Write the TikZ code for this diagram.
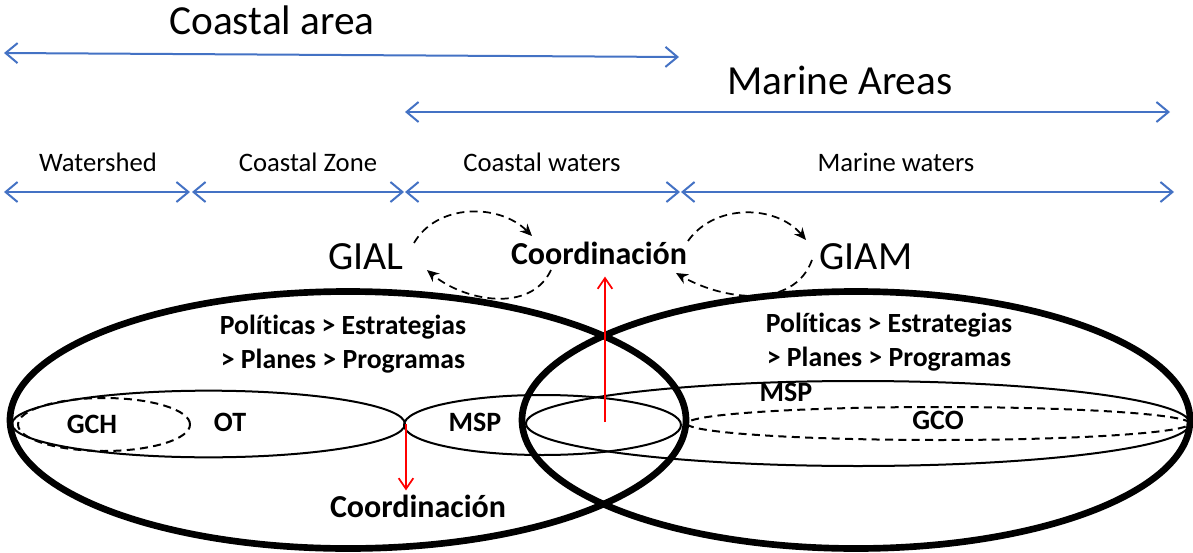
\documentclass[tikz,border=0pt]{standalone}
\usepackage{fontspec}
\setmainfont{Carlito}[RawFeature={-liga;-clig;-dlig;-calt}]
\usetikzlibrary{arrows.meta,shapes.geometric}
\definecolor{bluearr}{HTML}{4472C4}
\begin{document}
\begin{tikzpicture}[x=0.75pt,y=-0.75pt,line join=round,>=Stealth,
	rng/.style={bluearr,line width=1.5pt,{Straight Barb[length=9pt,width=15pt]}-{Straight Barb[length=9pt,width=15pt]}},
	bigtxt/.style={font=\fontsize{31}{37}\selectfont,inner sep=0pt},
	midtxt/.style={font=\fontsize{20}{24}\selectfont,inner sep=0pt},
	gtxt/.style={font=\fontsize{30}{36}\selectfont,inner sep=0pt},
	coordtxt/.style={font=\fontsize{24}{29}\selectfont\bfseries,inner sep=3pt},
	pol/.style={font=\fontsize{20.8}{26}\selectfont\bfseries,align=center,inner sep=0pt},
	lbl/.style={font=\fontsize{21}{25}\selectfont\bfseries,inner sep=0pt},
	ring/.style={draw,ellipse,line width=5pt,inner sep=0pt,minimum height=192.75pt},
	ell/.style={draw,ellipse,line width=1.5pt,inner sep=0pt},
	dell/.style={ell,dash pattern=on 6pt off 4pt},
	coordarr/.style={dash pattern=on 6pt off 4pt,line width=1.3pt,-{Stealth[length=9pt,width=8pt]}},
	redarr/.style={red,line width=1.3pt,-{Straight Barb[length=8pt,width=11pt]}}]
	\useasboundingbox (0,0) rectangle (1193,553);
	%Vẽ các vùng phía trên
	\node[bigtxt] (carea) at (272,20) {Coastal area};
	\node[bigtxt] (marea) at (840,80) {Marine Areas};
	\coordinate (a0) at (4,53); \coordinate (a1) at (679,57);
	\coordinate (b0) at (405,112); \coordinate (b1) at (1170,112);
	\draw[rng] (a0)--(a1);
	\draw[rng] (b0)--(b1);
	\node[midtxt] (wshed) at (98,162) {Watershed};
	\node[midtxt] (czone) at (308,162) {Coastal Zone};
	\node[midtxt] (cwat) at (542,162) {Coastal waters};
	\node[midtxt] (mwat) at (896,162) {Marine waters};
	\coordinate (w0) at (4,192); \coordinate (w1) at (190,192);
	\coordinate (z0) at (192,192); \coordinate (z1) at (404,192);
	\coordinate (c0) at (405,192); \coordinate (c1) at (680,192);
	\coordinate (m0) at (681,192); \coordinate (m1) at (1174,192);
	\draw[rng] (w0)--(w1); \draw[rng] (z0)--(z1);
	\draw[rng] (c0)--(c1); \draw[rng] (m0)--(m1);
	%Vẽ GIAL, GIAM và phối hợp
	\node[gtxt] (gial) at (366,257) {GIAL};
	\node[gtxt] (giam) at (866,257) {GIAM};
	\node[coordtxt] (coordA) at (599,253) {Coordinación};
	\draw[coordarr] ([shift={(48,-14)}]gial.center) to[out=60,in=135] ([shift={(-67,-17)}]coordA.center);
	\draw[coordarr] ([shift={(-48,17)}]coordA.center) to[out=-115,in=-40] ([shift={(61,13)}]gial.center);
	\draw[coordarr] ([shift={(89,-12)}]coordA.center) to[out=55,in=130] ([shift={(-60,-17)}]giam.center);
	\draw[coordarr] ([shift={(-54,3)}]giam.center) to[out=-110,in=-30] ([shift={(77,20)}]coordA.center);
	%Vẽ các elip
	\node[ring,minimum width=507pt] (ringL) at (348,420) {};
	\node[ring,minimum width=501pt] (ringR) at (856,420) {};
	\node[ell,minimum width=294.75pt,minimum height=50pt] (ot) at (208.5,424) {};
	\node[dell,minimum width=129pt,minimum height=39.75pt] (gch) at (104,424.5) {};
	\node[ell,minimum width=207.75pt,minimum height=45pt] (mspL) at (542.5,425) {};
	\node[ell,minimum width=498pt,minimum height=63.75pt] (mspR) at (858,423.5) {};
	\node[dell,minimum width=377.25pt,minimum height=24.75pt] (gco) at (938.5,423.5) {};
	%Các nhãn
	\node[pol] (polL) at (343,344) {Políticas > Estrategias\\> Planes > Programas};
	\node[pol] (polR) at (889,342) {Políticas > Estrategias\\> Planes > Programas};
	\node[lbl] (lgch) at (92,424) {GCH};
	\node[lbl] (lot) at (230,422) {OT};
	\node[lbl] (lmspL) at (475,422) {MSP};
	\node[lbl] (lmspR) at (786,392) {MSP};
	\node[lbl] (lgco) at (938,420) {GCO};
	\node[coordtxt] (coordB) at (418,506) {Coordinación};
	%Mũi tên đỏ
	\coordinate (lens) at (605,422);
	\draw[redarr,shorten >=6pt] (lens)--(lens |- coordA.south);
	\draw[redarr] (ot.east)--(ot.east |- coordB.north);
\end{tikzpicture}
\end{document}
